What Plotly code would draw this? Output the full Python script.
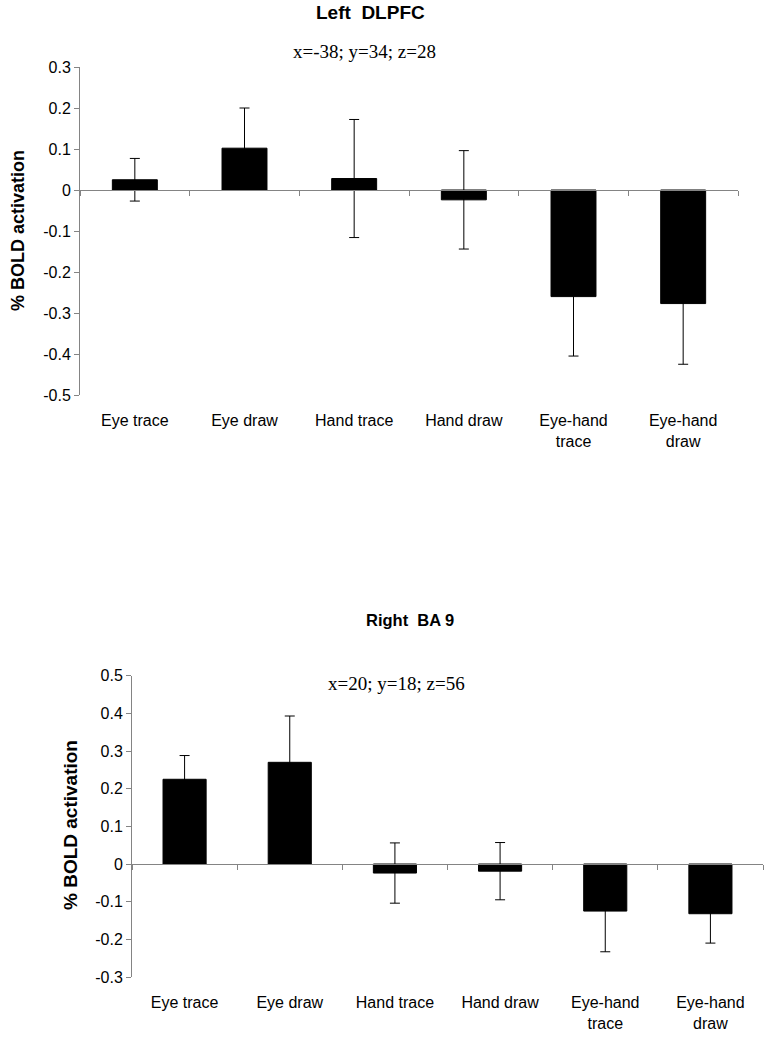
import plotly.graph_objects as go

categories = ["Eye trace", "Eye draw", "Hand trace", "Hand draw", "Eye-hand<br>trace", "Eye-hand<br>draw"]
left_vals = [0.025, 0.102, 0.028, -0.024, -0.260, -0.277]
left_err = [0.052, 0.098, 0.144, 0.120, 0.145, 0.148]
right_vals = [0.225, 0.270, -0.024, -0.019, -0.125, -0.132]
right_err = [0.063, 0.123, 0.080, 0.076, 0.108, 0.078]
left_yticks = [0.3, 0.2, 0.1, 0, -0.1, -0.2, -0.3, -0.4, -0.5]
right_yticks = [0.5, 0.4, 0.3, 0.2, 0.1, 0, -0.1, -0.2, -0.3]

W, H = 775, 1037
xpos = list(range(len(categories)))
bounds = [i - 0.5 for i in range(len(categories) + 1)]

top_x = [80 / W, 738 / W]
top_y = [1 - 395 / H, 1 - 67 / H]
bot_x = [132 / W, 763 / W]
bot_y = [1 - 977 / H, 1 - 675.7 / H]
top_r = [-0.5, 0.3]
bot_r = [-0.3, 0.5]


def zero_pos(dom, rng):
    return dom[0] + (0 - rng[0]) / (rng[1] - rng[0]) * (dom[1] - dom[0])


fig = go.Figure()
err_style = dict(type="data", visible=True, color="black", thickness=1, width=5)
fig.add_trace(go.Bar(x=xpos, y=left_vals, width=0.41, marker=dict(color="black", line=dict(color="black", width=1)),
                     error_y=dict(array=left_err, **err_style), xaxis="x", yaxis="y", showlegend=False))
fig.add_trace(go.Bar(x=xpos, y=right_vals, width=0.41, marker=dict(color="black", line=dict(color="black", width=1)),
                     error_y=dict(array=right_err, **err_style), xaxis="x2", yaxis="y2", showlegend=False))
# invisible traces so the zero-line axes are drawn
fig.add_trace(go.Scatter(x=[], y=[], xaxis="x3", yaxis="y", showlegend=False))
fig.add_trace(go.Scatter(x=[], y=[], xaxis="x4", yaxis="y2", showlegend=False))

axis_gray = "#848484"
tickfont = dict(family="Liberation Sans, Arial", size=16, color="black")

common_x = dict(range=[-0.5, 5.5], tickmode="array", tickvals=xpos, ticktext=categories,
                showline=False, showgrid=False, zeroline=False, ticks="", tickfont=tickfont,
                ticklabelstandoff=14, automargin=False)
zero_axis = dict(range=[-0.5, 5.5], tickmode="array", tickvals=bounds, showticklabels=False,
                 showline=True, linecolor=axis_gray, linewidth=1, ticks="outside", ticklen=5,
                 tickcolor=axis_gray, showgrid=False, zeroline=False, automargin=False)
y_common = dict(showline=True, linecolor=axis_gray, ticks="outside", ticklen=5, tickcolor=axis_gray,
                showgrid=False, zeroline=False, tickfont=tickfont, automargin=False, tickmode="array")

fig.update_layout(
    template="none",
    width=W, height=H, margin=dict(l=0, r=0, t=0, b=0, pad=0), autosize=False,
    paper_bgcolor="white", plot_bgcolor="white",
    xaxis=dict(domain=top_x, anchor="y", **common_x),
    xaxis2=dict(domain=bot_x, anchor="y2", **common_x),
    xaxis3=dict(domain=top_x, overlaying="x", anchor="free", position=zero_pos(top_y, top_r), **zero_axis),
    xaxis4=dict(domain=bot_x, overlaying="x2", anchor="free", position=zero_pos(bot_y, bot_r), **zero_axis),
    yaxis=dict(domain=top_y, anchor="x", range=top_r, tickvals=left_yticks,
               ticktext=[f"{v:g}" for v in left_yticks], **y_common),
    yaxis2=dict(domain=bot_y, anchor="x2", range=bot_r, tickvals=right_yticks,
                ticktext=[f"{v:g}" for v in right_yticks], **y_common),
)

coord_font = dict(family="Liberation Serif, Times New Roman", size=19, color="black")

fig.add_annotation(text="<b>Left\u00a0\u00a0DLPFC</b>", x=370 / W, y=1 - 12 / H, xref="paper", yref="paper",
                   showarrow=False, font=dict(family="Liberation Sans, Arial", size=19, color="black"),
                   xanchor="center", yanchor="middle")
fig.add_annotation(text="x=-38; y=34; z=28", x=364 / W, y=1 - 51 / H, xref="paper", yref="paper",
                   showarrow=False, font=coord_font, xanchor="center", yanchor="middle")
fig.add_annotation(text="<b>% BOLD activation</b>", x=18 / W, y=1 - 231 / H, xref="paper", yref="paper",
                   showarrow=False, font=dict(family="Liberation Sans, Arial", size=18, color="black"),
                   textangle=-90, xanchor="center", yanchor="middle")

fig.add_annotation(text="<b>Right\u00a0\u00a0BA 9</b>", x=410 / W, y=1 - 620 / H, xref="paper", yref="paper",
                   showarrow=False, font=dict(family="Liberation Sans, Arial", size=16.5, color="black"),
                   xanchor="center", yanchor="middle")
fig.add_annotation(text="x=20; y=18; z=56", x=397 / W, y=1 - 683 / H, xref="paper", yref="paper",
                   showarrow=False, font=coord_font, xanchor="center", yanchor="middle")
fig.add_annotation(text="<b>% BOLD activation</b>", x=70 / W, y=1 - 825 / H, xref="paper", yref="paper",
                   showarrow=False, font=dict(family="Liberation Sans, Arial", size=19, color="black"),
                   textangle=-90, xanchor="center", yanchor="middle")

fig.write_html("out.html", config={"responsive": False, "displayModeBar": False},
               post_script="document.body.style.margin='0';document.body.style.overflow='hidden';")
